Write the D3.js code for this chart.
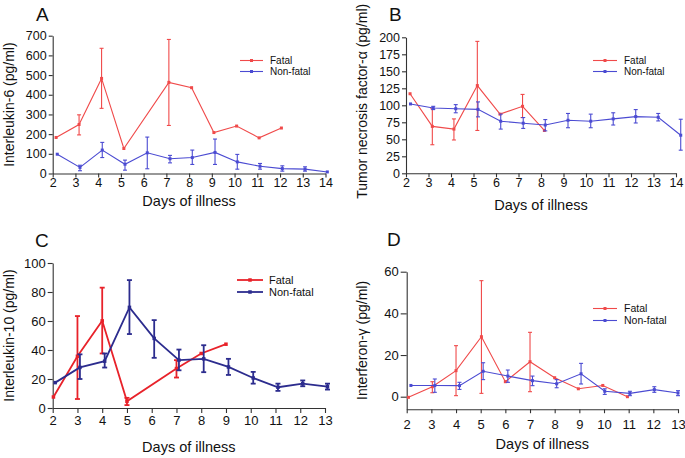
<!DOCTYPE html>
<html>
<head>
<meta charset="utf-8">
<script src="https://cdn.jsdelivr.net/npm/d3@7/dist/d3.min.js"></script>
<style>
  html, body { margin: 0; padding: 0; background: #fff; }
  svg { display: block; font-family: Arial, "Liberation Sans", sans-serif; }
</style>
</head>
<body>
<svg id="chart" width="685" height="458"></svg>
<script>
// ---------------- DATA ----------------
const seriesNames = ["Fatal", "Non-fatal"];
const xLabel = "Days of illness";

// Panel A: Interleukin-6
const aTitle = "Interleukin-6 (pg/ml)";
const aXTicks = [2,3,4,5,6,7,8,9,10,11,12,13,14];
const aYTicks = [0,100,200,300,400,500,600,700];
const aFatalDays = [2.15, 3.16, 4.15, 5.13, 7.11, 8.11, 9.09, 10.09, 11.08, 12.06];
const aFatalVal  = [183, 249, 483, 127, 463, 436, 208, 241, 181, 231];
const aFatalLo   = [null, 196, 331, null, 244, null, null, null, null, null];
const aFatalHi   = [null, 298, 636, null, 681, null, null, null, null, null];
const aNonDays = [2.2, 3.2, 4.18, 5.18, 6.16, 7.16, 8.14, 9.14, 10.12, 11.12, 12.1, 13.1, 14.08];
const aNonVal  = [98, 31, 119, 47, 105, 75, 81, 107, 59, 37, 25, 22, 8];
const aNonLo   = [null, 14, 81, 17, 24, 54, 46, 46, 22, 22, 12, 12, null];
const aNonHi   = [null, 42, 158, 68, 185, 92, 119, 175, 97, 51, 39, 34, null];

// Panel B: TNF-alpha
const bTitle = "Tumor necrosis factor-\u03B1 (pg/ml)";
const bXTicks = [2,3,4,5,6,7,8,9,10,11,12,13,14];
const bYTicks = [0,25,50,75,100,125,150,175,200];
const bFatalDays = [2.18, 3.17, 4.13, 5.17, 6.18, 7.18, 8.15];
const bFatalVal  = [117, 69, 65, 129, 87, 98.5, 63];
const bFatalLo   = [null, 42, 49, 63, null, 82, null];
const bFatalHi   = [null, 95, 80, 194, null, 116, null];
const bNonDays = [2.2, 3.21, 4.21, 5.2, 6.21, 7.21, 8.19, 9.2, 10.21, 11.21, 12.21, 13.21, 14.21];
const bNonVal  = [102, 96, 95, 94, 76.6, 73.7, 71, 78, 76.6, 80, 83.4, 82.4, 56];
const bNonLo   = [null, 93.7, 89, 83, 65, 66, 62.4, 67, 67, 71, 74, 77, 34];
const bNonHi   = [null, 98.5, 101, 105, 87, 82, 79, 88, 87, 89, 93.7, 88, 79.5];

// Panel C: Interleukin-10
const cTitle = "Interleukin-10 (pg/ml)";
const cXTicks = [2,3,4,5,6,7,8,9,10,11,12,13];
const cYTicks = [0,20,40,60,80,100];
const cFatalDays = [2.03, 3.0, 4.0, 5.0, 7.0, 8.0, 9.0];
const cFatalVal  = [7.6, 35.7, 60.1, 4.6, 27.2, 37.6, 44];
const cFatalLo   = [null, 6.2, 37.6, 2, 21, null, null];
const cFatalHi   = [null, 63.4, 83, 7, 33, null, null];
const cNonDays = [2.1, 3.1, 4.1, 5.1, 6.1, 7.1, 8.1, 9.1, 10.1, 11.1, 12.1, 13.1];
const cNonVal  = [17.5, 28, 32.3, 69.4, 48, 33, 33.9, 28.3, 20.7, 14.3, 16.8, 14.7];
const cNonLo   = [null, 20, 27.9, 51, 34.6, 26, 24.7, 22.8, 16.8, 11.8, 15, 12.7];
const cNonHi   = [null, 37, 37.6, 88.2, 60.6, 40.3, 43.3, 33.9, 24.9, 16.8, 19, 16.8];

// Panel D: Interferon-gamma
const dTitle = "Interferon-\u03B3 (pg/ml)";
const dXTicks = [2,3,4,5,6,7,8,9,10,11,12,13];
const dYTicks = [0,20,40,60];
const dFatalDays = [2.07, 3.04, 4.0, 5.03, 6.0, 7.0, 8.0, 8.96, 9.95, 10.95];
const dFatalVal  = [-0.3, 4.8, 12.5, 28.8, 7.2, 16.8, 9.1, 3.8, 5.4, 0];
const dFatalLo   = [null, 1.9, 0.5, 1.6, null, 2.4, null, null, null, null];
const dFatalHi   = [null, 7.2, 24.5, 55.7, null, 30.9, null, null, null, null];
const dNonDays = [2.17, 3.14, 4.14, 5.1, 6.1, 7.1, 8.08, 9.07, 10.03, 11.05, 12.04, 13.0];
const dNonVal  = [5.4, 5.4, 5.3, 12.2, 9.9, 7.7, 6.2, 11, 2.6, 1.6, 3.4, 1.8];
const dNonLo   = [null, 2.1, 3.5, 8.2, 6.9, 5.3, 4.3, 6.1, 1.1, 0.5, 2.1, 0.5];
const dNonHi   = [null, 8.5, 6.9, 16.3, 12.8, 9.9, 8.2, 16, 3.8, 2.6, 4.8, 2.9];

// ---------------- DRAW ----------------
const svg = d3.select("#chart");
const zip = (days, val, lo, hi) => days.map((d, i) => ({x: d, y: val[i], lo: lo[i], hi: hi[i]}));

function panel(cfg) {
  const g = svg.append("g");
  const x = d3.scaleLinear().domain(cfg.xDomain).range(cfg.xRange);
  const y = d3.scaleLinear().domain(cfg.yDomain).range(cfg.yRange);

  // axes
  const xAxis = d3.axisBottom(x).tickValues(cfg.xTicks).tickSize(cfg.xTickSize).tickPadding(cfg.xTickPad).tickSizeOuter(0);
  const yAxis = d3.axisLeft(y).tickValues(cfg.yTicks).tickSize(cfg.yTickSize).tickPadding(cfg.yTickPad).tickSizeOuter(0);
  const gx = g.append("g").attr("transform", `translate(0,${cfg.yRange[0]})`).call(xAxis);
  const gy = g.append("g").attr("transform", `translate(${cfg.xRange[0]},0)`).call(yAxis);
  [gx, gy].forEach(a => {
    a.select(".domain").attr("stroke", "#333").attr("stroke-width", 1.1);
    a.selectAll(".tick line").attr("stroke", "#333").attr("stroke-width", 1.1);
    a.selectAll(".tick text").attr("fill", "#111").style("font-size", cfg.tickFont + "px").style("font-family", "Arial, 'Liberation Sans', sans-serif");
  });

  // series
  cfg.series.forEach(s => {
    const pts = s.data;
    const line = d3.line().x(d => x(d.x)).y(d => y(d.y));
    g.append("path").datum(pts).attr("d", line)
      .attr("fill", "none").attr("stroke", s.color).attr("stroke-width", cfg.lw);
    const eb = pts.filter(d => d.lo != null);
    g.selectAll(null).data(eb).enter().append("line")
      .attr("x1", d => x(d.x)).attr("x2", d => x(d.x))
      .attr("y1", d => y(d.lo)).attr("y2", d => y(d.hi))
      .attr("stroke", s.color).attr("stroke-width", cfg.lw);
    ["lo", "hi"].forEach(k => {
      g.selectAll(null).data(eb).enter().append("line")
        .attr("x1", d => x(d.x) - cfg.cap).attr("x2", d => x(d.x) + cfg.cap)
        .attr("y1", d => y(d[k])).attr("y2", d => y(d[k]))
        .attr("stroke", s.color).attr("stroke-width", cfg.lw);
    });
    g.selectAll(null).data(pts).enter().append("rect")
      .attr("x", d => x(d.x) - cfg.ms / 2).attr("y", d => y(d.y) - cfg.ms / 2)
      .attr("width", cfg.ms).attr("height", cfg.ms).attr("fill", s.color);
  });

  // legend
  cfg.series.forEach((s, i) => {
    const ly = cfg.legY + i * cfg.legDy;
    g.append("line").attr("x1", cfg.legX).attr("x2", cfg.legX + cfg.legLen)
      .attr("y1", ly).attr("y2", ly).attr("stroke", s.color).attr("stroke-width", cfg.lw);
    g.append("rect").attr("x", cfg.legX + cfg.legLen / 2 - cfg.ms / 2).attr("y", ly - cfg.ms / 2)
      .attr("width", cfg.ms).attr("height", cfg.ms).attr("fill", s.color);
    g.append("text").attr("x", cfg.legX + cfg.legLen + cfg.legGap).attr("y", ly + 3.5)
      .style("font-size", cfg.legFont + "px").attr("fill", "#111").text(s.name);
  });

  // panel letter
  g.append("text").attr("x", cfg.letterX).attr("y", cfg.letterY)
    .style("font-size", "19px").attr("fill", "#111").text(cfg.letter);

  // y title
  const yMid = (cfg.yRange[0] + cfg.yRange[1]) / 2 + (cfg.yTitleShift || 0);
  g.append("text").attr("transform", `translate(${cfg.yTitleX},${yMid}) rotate(-90)`)
    .attr("text-anchor", "middle").style("font-size", "14px").attr("fill", "#111").text(cfg.yTitle);

  // x title
  g.append("text").attr("x", (cfg.xRange[0] + cfg.xRange[1]) / 2).attr("y", cfg.xTitleY)
    .attr("text-anchor", "middle").style("font-size", "14.5px").attr("fill", "#111").text(xLabel);
}

const redL = "#f04a4a", blueL = "#4b4bd2";
const redC = "#e8222a", blueC = "#2c2c8e";

panel({
  letter: "A", letterX: 36, letterY: 21,
  xDomain: [2, 14], xRange: [52.7, 325.5], xTicks: aXTicks, xTickSize: 4, xTickPad: 1,
  yDomain: [0, 700], yRange: [173.5, 35.7], yTicks: aYTicks, yTickSize: 4, yTickPad: 2,
  tickFont: 12.5,
  yTitle: aTitle, yTitleX: 14, xTitleY: 206,
  lw: 1.1, ms: 3, cap: 2,
  legX: 240, legY: 60.5, legDy: 11, legLen: 23, legGap: 7, legFont: 10,
  series: [
    {name: seriesNames[0], color: redL, data: zip(aFatalDays, aFatalVal, aFatalLo, aFatalHi)},
    {name: seriesNames[1], color: blueL, data: zip(aNonDays, aNonVal, aNonLo, aNonHi)}
  ]
});

panel({
  letter: "B", letterX: 389, letterY: 21,
  xDomain: [2, 14], xRange: [406, 676], xTicks: bXTicks, xTickSize: 4, xTickPad: 1,
  yDomain: [0, 200], yRange: [173.3, 37.3], yTicks: bYTicks, yTickSize: 4, yTickPad: 2,
  tickFont: 12.5,
  yTitle: bTitle, yTitleX: 367, yTitleShift: -4, xTitleY: 210,
  lw: 1.1, ms: 3, cap: 2,
  legX: 593, legY: 60.5, legDy: 11, legLen: 24, legGap: 7, legFont: 10,
  series: [
    {name: seriesNames[0], color: redL, data: zip(bFatalDays, bFatalVal, bFatalLo, bFatalHi)},
    {name: seriesNames[1], color: blueL, data: zip(bNonDays, bNonVal, bNonLo, bNonHi)}
  ]
});

panel({
  letter: "C", letterX: 35, letterY: 247,
  xDomain: [2, 13], xRange: [52.7, 325], xTicks: cXTicks, xTickSize: 5, xTickPad: 3,
  yDomain: [0, 100], yRange: [408, 263], yTicks: cYTicks, yTickSize: 5, yTickPad: 2,
  tickFont: 13,
  yTitle: cTitle, yTitleX: 14, xTitleY: 452,
  lw: 1.8, ms: 3.5, cap: 2.5,
  legX: 237, legY: 280, legDy: 12, legLen: 26, legGap: 6, legFont: 11,
  series: [
    {name: seriesNames[0], color: redC, data: zip(cFatalDays, cFatalVal, cFatalLo, cFatalHi)},
    {name: seriesNames[1], color: blueC, data: zip(cNonDays, cNonVal, cNonLo, cNonHi)}
  ]
});

panel({
  letter: "D", letterX: 387, letterY: 246,
  xDomain: [2, 13], xRange: [406.7, 678], xTicks: dXTicks, xTickSize: 4, xTickPad: 7,
  yDomain: [-6, 60], yRange: [409.2, 271.7], yTicks: dYTicks, yTickSize: 6, yTickPad: 2,
  tickFont: 13,
  yTitle: dTitle, yTitleX: 367, xTitleY: 449,
  lw: 1.1, ms: 3, cap: 2,
  legX: 593, legY: 308.5, legDy: 12, legLen: 24, legGap: 7, legFont: 10.5,
  series: [
    {name: seriesNames[0], color: redL, data: zip(dFatalDays, dFatalVal, dFatalLo, dFatalHi)},
    {name: seriesNames[1], color: blueL, data: zip(dNonDays, dNonVal, dNonLo, dNonHi)}
  ]
});
</script>
</body>
</html>
